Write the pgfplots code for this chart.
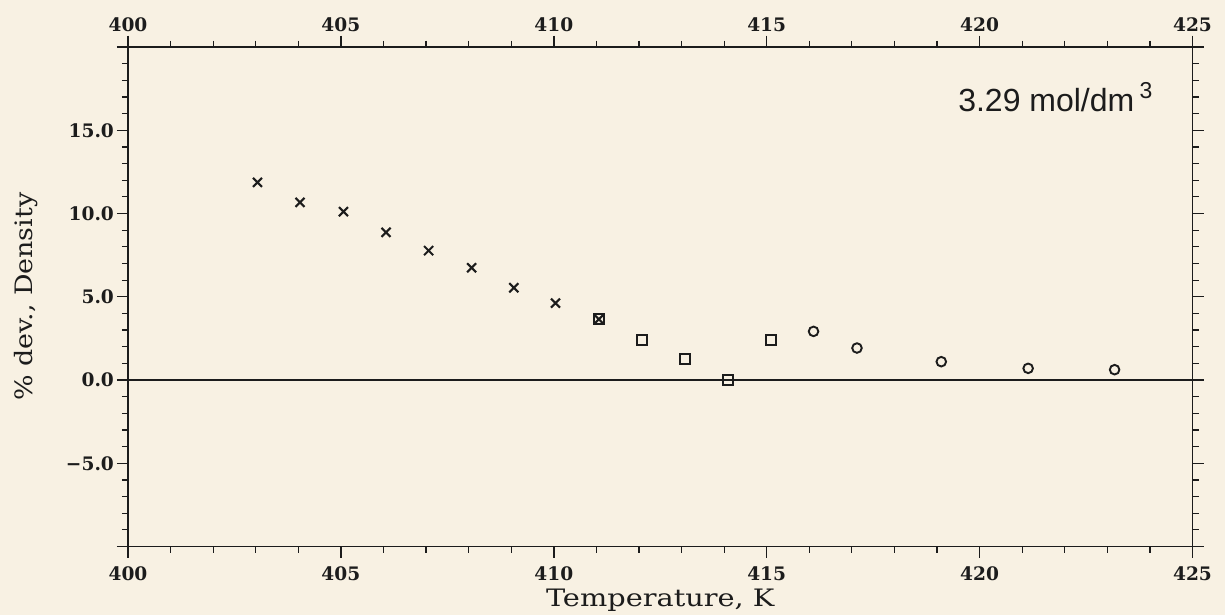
\documentclass[border=0pt]{standalone}
\usepackage{fontspec}
\setmainfont{DejaVu Serif}
\newfontfamily\labfont[FakeStretch=1.2]{DejaVu Serif}
\newfontfamily\ylabfont[FakeStretch=1.12]{DejaVu Serif}
\newfontfamily\annfont{Liberation Sans}
\usepackage{pgfplots}
\pgfplotsset{compat=1.18}
\definecolor{paper}{RGB}{248,241,227}
\definecolor{ink}{RGB}{28,28,28}

\pgfplotstableread{
x y
403.04 11.87
404.04 10.67
405.06 10.11
406.06 8.87
407.06 7.77
408.07 6.74
409.06 5.54
410.04 4.62
411.06 3.65
}\crosses
\pgfplotstableread{
x y
411.06 3.65
412.07 2.40
413.07 1.26
414.08 0.00
415.09 2.42
}\squares
\pgfplotstableread{
x y
416.10 2.92
417.12 1.92
419.10 1.10
421.14 0.70
423.17 0.62
}\circles

\pgfplotsset{
  common/.style={
    at={(0,0)}, anchor=south west,
    scale only axis, width=532.25pt, height=249.75pt,
    xmin=400, xmax=425, ymin=-10, ymax=20,
    xtick={400,405,...,425}, minor x tick num=4,
    tick align=outside,
    major tick length=5.5pt, minor tick length=3pt,
    axis line style={ink, line width=0.9pt},
    every tick/.style={ink, line width=0.7pt},
    every minor tick/.style={ink, line width=0.6pt},
    ticklabel style={font=\fontsize{9.3}{10}\selectfont\bfseries, text=ink},
    /pgf/number format/assume math mode=true,
  }
}

\begin{document}
\begin{tikzpicture}
\fill[paper] (-64pt,-34.25pt) rectangle (548.5pt,273.25pt);
\begin{axis}[
  common,
  ytick={-10,-5,0,5,10,15,20},
  yticklabels={,−5.0,0.0,5.0,10.0,15.0,},
  minor y tick num=4,
  yticklabel style={xshift=2pt},
  xticklabel style={yshift=-1pt},
  xlabel={Temperature, K},
  ylabel={\% dev., Density},
  xlabel style={font=\labfont\fontsize{12}{14}\selectfont, text=ink, at={(axis description cs:0.5,0)}, anchor=base, yshift=-30pt},
  ylabel style={font=\ylabfont\fontsize{12}{14}\selectfont, text=ink, at={(axis description cs:-0.0955,0.5)}, anchor=center},
  clip=false,
]
\addplot[ink, line width=0.7pt, no marks] coordinates {(400,0) (425,0)};
\addplot[only marks, mark=x, mark size=3.2pt, mark options={ink, line width=1.05pt}] table {\crosses};
\addplot[only marks, mark=square, mark size=2.5pt, mark options={ink, line width=1pt}] table {\squares};
\addplot[only marks, mark=o, mark size=2.4pt, mark options={ink, line width=0.95pt}] table {\circles};
\node[anchor=base east, inner sep=0pt, font=\annfont\fontsize{16}{18}\selectfont, text=ink] at (axis cs:424.07,16.1) {3.29 mol/dm\,\raisebox{0.8ex}{\fontsize{11.5}{12}\selectfont 3}};
\end{axis}
\begin{axis}[
  common,
  xticklabel pos=upper,
  xticklabel style={yshift=-1.5pt},
  ytick=\empty,
]
\end{axis}
\pgfresetboundingbox
\path (-64pt,-34.25pt) rectangle (548.5pt,273.25pt);
\end{tikzpicture}
\end{document}
